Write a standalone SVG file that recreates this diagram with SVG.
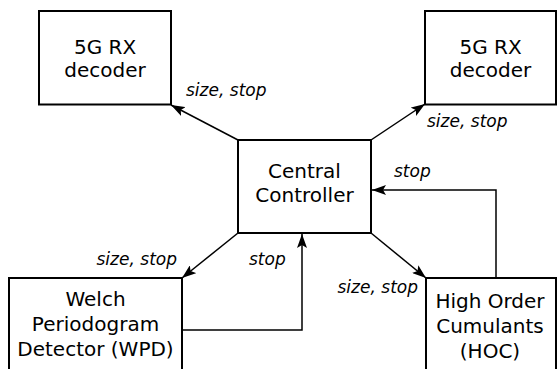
<svg xmlns="http://www.w3.org/2000/svg" width="557" height="369" viewBox="0 0 557 369">
<style>
.box{fill:#fff;stroke:#000;stroke-width:2}
.t{font-family:"DejaVu Sans",sans-serif;font-size:20px;fill:#000;text-anchor:middle}
.l{font-family:"DejaVu Sans",sans-serif;font-size:17px;font-style:italic;fill:#000}
.c{fill:none;stroke:#000;stroke-width:1.5}
</style>
<defs>
<marker id="ah" markerUnits="userSpaceOnUse" viewBox="0 0 14 10" refX="14" refY="5" markerWidth="14" markerHeight="10" orient="auto">
<path d="M0,0 L14,5 L0,10 L3,5 Z" fill="#000"/>
</marker>
</defs>
<g id="connectors">
<line class="c" x1="238" y1="140" x2="171" y2="105" marker-end="url(#ah)"/>
<line class="c" x1="371" y1="140" x2="425" y2="104" marker-end="url(#ah)"/>
<line class="c" x1="238" y1="233" x2="182" y2="278" marker-end="url(#ah)"/>
<line class="c" x1="371" y1="233" x2="426" y2="278" marker-end="url(#ah)"/>
<path class="c" d="M182,330 H302 V234" marker-end="url(#ah)"/>
<path class="c" d="M496,278 V190 H372" marker-end="url(#ah)"/>
<text class="l" x="186" y="96">size, stop</text>
<text class="l" x="427" y="127">size, stop</text>
<text class="l" x="177" y="265" text-anchor="end">size, stop</text>
<text class="l" x="418" y="293" text-anchor="end">size, stop</text>
<text class="l" x="249" y="265">stop</text>
<text class="l" x="394" y="177">stop</text>
</g>
<g id="rx1">
<rect class="box" x="39" y="11" width="132" height="93.5"/>
<text class="t" x="105" y="54">5G RX</text>
<text class="t" x="105" y="77">decoder</text>
</g>
<g id="rx2">
<rect class="box" x="425" y="11" width="131" height="93.5"/>
<text class="t" x="490.5" y="54">5G RX</text>
<text class="t" x="490.5" y="77">decoder</text>
</g>
<g id="central">
<rect class="box" x="238" y="140" width="133" height="93"/>
<text class="t" x="304.5" y="178">Central</text>
<text class="t" x="304.5" y="202">Controller</text>
</g>
<g id="wpd">
<rect class="box" x="9" y="278" width="173" height="110"/>
<text class="t" x="95.5" y="306">Welch</text>
<text class="t" x="95.5" y="331">Periodogram</text>
<text class="t" x="95.5" y="356">Detector (WPD)</text>
</g>
<g id="hoc">
<rect class="box" x="426" y="278" width="130" height="110"/>
<text class="t" x="490" y="308">High Order</text>
<text class="t" x="490" y="333">Cumulants</text>
<text class="t" x="490" y="358">(HOC)</text>
</g>
</svg>
